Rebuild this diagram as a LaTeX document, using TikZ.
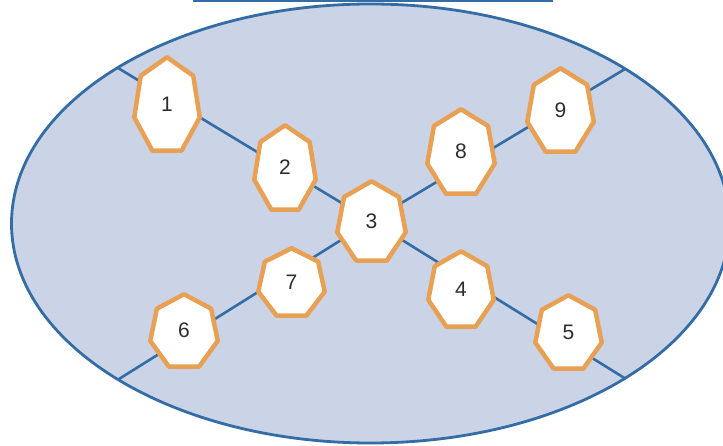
\documentclass[tikz,border=0pt]{standalone}
\usepackage{fontspec}
\setmainfont{Liberation Sans}
\usetikzlibrary{backgrounds}
\definecolor{ovalfill}{RGB}{202,212,230}
\definecolor{ovalblue}{RGB}{52,108,166}
\definecolor{heptorange}{RGB}{232,160,84}
\definecolor{numgray}{RGB}{45,45,45}
\tikzset{
  oval/.style={fill=ovalfill,draw=ovalblue,line width=2.8pt},
  link/.style={draw=ovalblue,line width=2.6pt},
  heptline/.style={draw=heptorange,fill=white,line width=4.5pt,line join=round},
  numlabel/.style={font=\fontsize{21}{21}\selectfont,text=numgray,inner sep=0pt},
  topbar/.style={draw=ovalblue,line width=3pt}
}
\newcommand\heptnode[6]{%
  \pgfmathsetmacro\hrx{(#4-4.5)/1.95}%
  \pgfmathsetmacro\hry{(#5-4.5)/1.901}%
  \pgfmathsetmacro\hcy{#3+0.0495*\hry}%
  \draw[heptline] plot[samples at={90,141.4286,192.8571,244.2857,295.7143,347.1429,398.5714}] ({#2+\hrx*cos(\x)},{\hcy-\hry*sin(\x)}) -- cycle;
  \node[numlabel] (#1) at (#2,#3) {#6};
}
\begin{document}
\begin{tikzpicture}[x=1pt,y=-1pt]
\useasboundingbox (0,0) rectangle (723,446);
\draw[topbar] (193,0.5) -- (553,0.5);
\heptnode{n1}{167}{104}{70}{98}{1}
\heptnode{n2}{285}{167.5}{66}{89}{2}
\heptnode{n3}{371.5}{221}{73}{84}{3}
\heptnode{n4}{461}{289}{70}{80}{4}
\heptnode{n5}{568.5}{332}{71}{78}{5}
\heptnode{n6}{184}{330.5}{72}{77}{6}
\heptnode{n7}{291.5}{282}{71}{72}{7}
\heptnode{n8}{461}{151.5}{72}{89}{8}
\heptnode{n9}{560.5}{110}{71}{88}{9}
\coordinate (c1) at (118,68);
\coordinate (c5) at (626,379);
\coordinate (c6) at (119,379);
\coordinate (c9) at (625,69);
\begin{pgfonlayer}{background}
  \draw[oval] (370.5,223.5) ellipse [x radius=359, y radius=219.5];
  \draw[link] (c1) -- (n3.center) -- (c5);
  \draw[link] (c6) -- (n3.center) -- (c9);
\end{pgfonlayer}
\end{tikzpicture}
\end{document}
